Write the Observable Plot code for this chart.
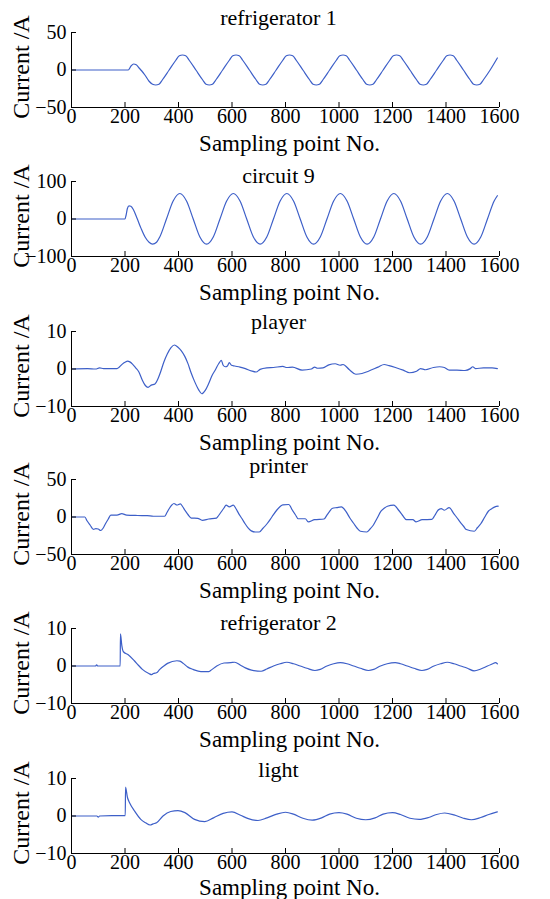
<!DOCTYPE html>
<html><head><meta charset="utf-8">
<script src="https://cdn.jsdelivr.net/npm/d3@7"></script>
<script src="https://cdn.jsdelivr.net/npm/@observablehq/plot@0.6"></script>
<style>
body{margin:0;background:#fff;}
#charts{width:550px;}
#charts svg{display:block;}
</style></head><body><div id="charts"></div>
<script>
const titles = ["refrigerator 1", "circuit 9", "player", "printer", "refrigerator 2", "light"];
const yLimits = [50, 100, 10, 50, 10, 10];
const xTicks = [0, 200, 400, 600, 800, 1000, 1200, 1400, 1600];
const xLabel = "Sampling point No.";
const yLabel = "Current /A";

const refrigerator1 = [[0,0],[212,0],[222,5],[232,8],[242,7],[252,3],[262,-1],[275,-7],[290,-15],[303,-19],[315,-20],[327,-19],[340,-13],[365,0],[390,13],[403,19],[415,20],[427,19],[440,13],[465,0],[490,-13],[503,-19],[515,-20],[527,-19],[540,-13],[565,0],[590,13],[603,19],[615,20],[627,19],[640,13],[665,0],[690,-13],[703,-19],[715,-20],[727,-19],[740,-13],[765,0],[790,13],[803,19],[815,20],[827,19],[840,13],[865,0],[890,-13],[903,-19],[915,-20],[927,-19],[940,-13],[965,0],[990,13],[1003,19],[1015,20],[1027,19],[1040,13],[1065,0],[1090,-13],[1103,-19],[1115,-20],[1127,-19],[1140,-13],[1165,0],[1190,13],[1203,19],[1215,20],[1227,19],[1240,13],[1265,0],[1290,-13],[1303,-19],[1315,-20],[1327,-19],[1340,-13],[1365,0],[1390,13],[1403,19],[1415,20],[1427,19],[1440,13],[1465,0],[1490,-13],[1503,-19],[1515,-20],[1527,-19],[1540,-13],[1565,0],[1592,16]];

const circuit9 = [[0,0],[200,0],[204,10],[209,28],[215,35],[222,34],[232,24],[245,2],[260,-25],[275,-48],[290,-62],[303,-67],[318,-62],[330,-48],[355,0],[380,48],[405,68],[430,48],[455,0],[480,-48],[505,-67],[530,-48],[555,0],[580,48],[605,68],[630,48],[655,0],[680,-48],[705,-67],[730,-48],[755,0],[780,48],[805,68],[830,48],[855,0],[880,-48],[905,-67],[930,-48],[955,0],[980,48],[1005,68],[1030,48],[1055,0],[1080,-48],[1105,-67],[1130,-48],[1155,0],[1180,48],[1205,68],[1230,48],[1255,0],[1280,-48],[1305,-67],[1330,-48],[1355,0],[1380,48],[1405,68],[1430,48],[1455,0],[1480,-48],[1505,-67],[1530,-48],[1555,0],[1580,48],[1592,62]];

const player = [[0,0],[60,0.1],[90,0],[105,0.3],[120,0.1],[170,0.1],[180,0.6],[190,1.3],[200,1.8],[210,2.1],[218,1.9],[228,1.3],[240,0.3],[252,-0.8],[265,-3.0],[276,-4.4],[286,-4.9],[298,-4.3],[312,-4.0],[322,-2.8],[333,-0.8],[345,1.8],[358,4.0],[372,5.7],[385,6.4],[398,5.8],[410,4.9],[424,3.3],[435,1.5],[446,-0.8],[460,-3.3],[475,-5.5],[487,-6.6],[500,-5.7],[512,-4.0],[525,-1.8],[538,-0.2],[550,1.4],[560,2.3],[567,1.0],[575,0.6],[583,0.8],[590,1.7],[598,1.0],[610,0.8],[630,0.5],[650,0.1],[672,-0.5],[690,-0.8],[705,-0.1],[730,0.3],[755,0.4],[790,0.7],[805,0.4],[826,0.5],[862,-0.3],[897,0],[909,0.5],[920,0.2],[940,0.3],[962,1.1],[986,1.4],[1004,1.0],[1015,1.2],[1039,-0.2],[1063,-1.4],[1086,-1.2],[1110,-0.6],[1146,0.5],[1169,1.2],[1187,0.9],[1211,0.4],[1240,-0.3],[1264,-1.0],[1290,-0.6],[1305,0.1],[1323,-0.2],[1353,0.4],[1376,0.6],[1394,0.4],[1412,-0.3],[1441,-0.3],[1471,-0.4],[1491,0.1],[1500,0.6],[1510,0.1],[1540,0.3],[1572,0.3],[1592,0.1]];

const printer = [[0,0],[50,0],[58,-5],[70,-11],[82,-16.5],[91,-15.5],[100,-16],[109,-18],[118,-15],[127,-9],[137,-3],[147,2.5],[170,2.5],[188,4.5],[206,2.5],[247,2],[283,1.8],[306,1],[348,1],[357,6],[365,11],[375,16],[383,18],[394,16],[407,17.5],[415,14],[424,9],[436,3],[448,-1.4],[472,-1.8],[489,-4.5],[513,-2.7],[542,-1.4],[550,2],[560,7],[570,12],[578,15.8],[590,13.5],[605,15.8],[615,11],[625,4.5],[637,-2],[649,-9],[660,-14.5],[672,-18.5],[687,-20],[702,-20],[716,-15],[731,-9],[749,0],[767,9],[780,14],[790,16.2],[812,16.7],[826,9],[837,3],[847,-2.3],[874,-2.3],[885,-6.5],[909,-3.6],[944,-2.7],[956,3.2],[965,7.5],[974,11.3],[992,12.6],[1009,13.5],[1027,6.8],[1040,-1],[1056,-9],[1068,-15],[1080,-19],[1104,-20],[1116,-16],[1128,-11],[1142,-2],[1157,7.7],[1170,12],[1181,14.4],[1205,15.8],[1223,9],[1238,2],[1252,-3.6],[1276,-3.6],[1288,-6.5],[1311,-3.6],[1347,-3.2],[1358,2],[1370,9],[1382,11.3],[1394,9],[1412,12.6],[1429,4.5],[1441,-1],[1453,-6.8],[1465,-12],[1476,-16.7],[1506,-19],[1518,-14],[1530,-9],[1545,0],[1559,8],[1571,11],[1583,13.5],[1595,14.4]];

const refrigerator2 = [[0,0],[90,0],[94,0.3],[98,0],[182,0],[183,8.6],[188,5.5],[194,3.8],[212,3.0],[235,1.4],[250,0.2],[265,-0.9],[289,-2.0],[300,-2.3],[306,-2.0],[318,-1.8],[330,-0.9],[345,0],[359,0.7],[394,1.4],[405,1.3],[418,0.7],[435,-0.3],[454,-0.9],[484,-1.5],[513,-1.5],[520,-1.2],[543,0],[570,0.8],[596,0.9],[610,1.0],[632,0.2],[650,-0.5],[673,-1.1],[709,-1.4],[730,-0.8],[755,0],[780,0.6],[805,1.0],[830,0.6],[855,0],[880,-0.6],[910,-1.2],[930,-0.9],[955,0],[980,0.6],[1005,0.9],[1030,0.6],[1055,0],[1080,-0.6],[1110,-1.2],[1130,-0.9],[1155,0],[1180,0.6],[1210,0.9],[1230,0.6],[1255,0],[1280,-0.6],[1310,-1.2],[1330,-0.9],[1355,0],[1380,0.6],[1405,1.0],[1430,0.6],[1455,0],[1480,-0.6],[1505,-1.3],[1530,-0.8],[1555,0],[1575,0.6],[1585,0.9],[1592,0.6]];

const light = [[0,0],[95,0],[100,-0.3],[105,0],[150,0.1],[201,0.1],[202,7.7],[209,5.0],[218,3.4],[235,1.4],[259,-0.9],[277,-1.8],[294,-2.4],[305,-2.1],[318,-1.8],[342,0],[371,1.2],[398,1.45],[424,0.9],[460,-0.9],[498,-1.5],[531,-0.5],[567,0.7],[600,1.1],[632,0.2],[661,-0.7],[697,-1.2],[731,-0.5],[767,0.5],[800,1.0],[830,0.5],[865,-0.6],[900,-1.1],[935,-0.5],[965,0.5],[1000,0.9],[1030,0.5],[1065,-0.6],[1100,-1.0],[1135,-0.5],[1165,0.5],[1200,0.9],[1230,0.4],[1265,-0.6],[1300,-0.9],[1335,-0.4],[1365,0.4],[1395,0.8],[1430,0.3],[1465,-0.6],[1495,-1.0],[1530,-0.4],[1560,0.4],[1592,1.1]];

const seriesList = [refrigerator1, circuit9, player, printer, refrigerator2, light];

// layout
const panelHeights = [149, 150, 148, 149, 150, 153];
const titleDy = [-15, -5.4, -9.4, -13.6, -6, -9];
const xLabelDy = [36, 36, 36, 36, 36, 34];
const FONT = "'Liberation Serif', 'Times New Roman', serif";
const LINE = "#3d5fc8";
const fmt = d => d < 0 ? "\u2212" + Math.abs(d) : String(d);

const host = document.getElementById("charts");
seriesList.forEach((data, i) => {
  const m = yLimits[i];
  const h = panelHeights[i];
  const rows = data.map(([x, y]) => ({x, y}));
  const chart = Plot.plot({
    width: 550, height: h,
    marginLeft: 71, marginRight: 51, marginTop: 32, marginBottom: h - 32 - 75,
    style: {fontFamily: FONT, fontSize: "20px", background: "white", color: "black", overflow: "visible"},
    x: {domain: [0, 1600]},
    y: {domain: [-m, m]},
    marks: [
      Plot.line(rows, {x: "x", y: "y", stroke: LINE, strokeWidth: 1.2, curve: "monotone-x"}),
      Plot.ruleX([0], {stroke: "black", strokeWidth: 1}),
      Plot.ruleY([-m], {stroke: "black", strokeWidth: 1}),
      Plot.axisX({ticks: xTicks, tickSize: -5, tickPadding: 6, tickFormat: fmt, fontSize: 20, fontFamily: FONT, label: null}),
      Plot.axisY({ticks: [-m, 0, m], tickSize: -5, tickPadding: 10, tickFormat: fmt, fontSize: 20, fontFamily: FONT, label: null}),
      Plot.text([titles[i]], {text: d => d, frameAnchor: "top", dx: -7, dy: titleDy[i], fontSize: 22, fontFamily: FONT, textAnchor: "middle", lineAnchor: "middle"}),
      Plot.text([xLabel], {text: d => d, frameAnchor: "bottom", dx: 4, dy: xLabelDy[i], fontSize: 23, fontFamily: FONT, textAnchor: "middle", lineAnchor: "middle"}),
      Plot.text([yLabel], {text: d => d, frameAnchor: "left", dx: -50, dy: -3, rotate: -90, fontSize: 24, fontFamily: FONT, textAnchor: "middle", lineAnchor: "middle"})
    ]
  });
  host.append(chart);
});
</script>
</body></html>
